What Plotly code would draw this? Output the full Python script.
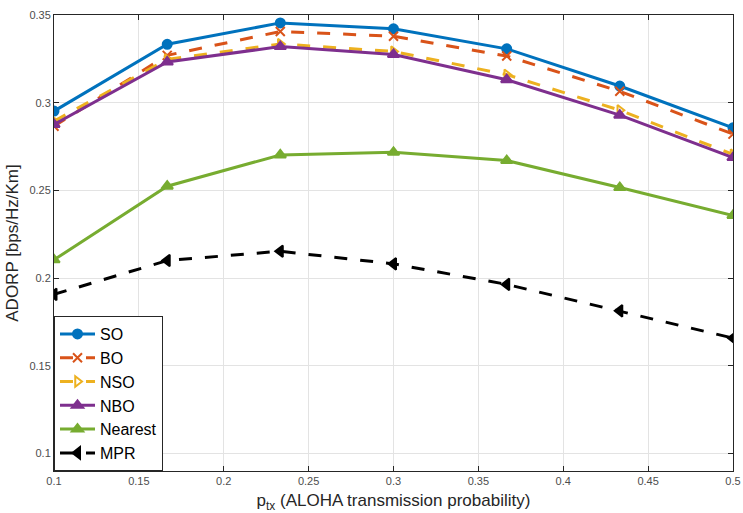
import plotly.graph_objects as go

x = [0.1, 0.1667, 0.2333, 0.3, 0.3667, 0.4333, 0.5]
so = [0.2952, 0.3333, 0.3455, 0.3421, 0.3307, 0.3095, 0.2857]
bo = [0.2866, 0.3270, 0.3406, 0.3379, 0.3266, 0.3065, 0.2821]
nso = [0.2895, 0.3247, 0.3335, 0.3292, 0.3160, 0.2957, 0.2705]
nbo = [0.2876, 0.3232, 0.3320, 0.3275, 0.3131, 0.2929, 0.2687]
nearest = [0.2104, 0.2524, 0.2702, 0.2717, 0.2670, 0.2516, 0.2357]
mpr = [0.1907, 0.2100, 0.2153, 0.2081, 0.1964, 0.1813, 0.1658]

series = [
    ("SO", so, "#0072BD", "solid", "circle", 9),
    ("BO", bo, "#D95319", "13px,13px", "x-thin", 9),
    ("NSO", nso, "#EDB120", "13px,13px", "triangle-right-open", 9),
    ("NBO", nbo, "#7E2F8E", "solid", "triangle-up", 10),
    ("Nearest", nearest, "#77AC30", "solid", "triangle-up", 10),
    ("MPR", mpr, "#000000", "13px,13px", "triangle-left", 10),
]

fig = go.Figure()
for name, y, color, dash, sym, size in series:
    fig.add_trace(go.Scatter(
        x=x, y=y, name=name, mode="lines+markers",
        line=dict(color=color, width=3, dash=dash),
        marker=dict(symbol=sym, size=size, color=color,
                    line=dict(color=color, width=2)),
    ))

axis_common = dict(
    showgrid=True, gridcolor="#e3e3e3", gridwidth=1,
    showline=True, linecolor="#262626", linewidth=1, mirror="ticks",
    ticks="inside", ticklen=5, tickcolor="#262626",
    tickfont=dict(family="Arial", size=11, color="#4d4d4d"),
    zeroline=False,
)

fig.update_layout(
    width=743, height=513,
    margin=dict(l=54, r=9, t=13, b=42),
    plot_bgcolor="white", paper_bgcolor="white",
    font=dict(family="Arial", color="#262626"),
    xaxis=dict(range=[0.1, 0.5], tick0=0.1, dtick=0.05, automargin=False,
               title=dict(text="p<sub>tx</sub> (ALOHA transmission probability)",
                          font=dict(size=17, color="#262626")),
               **axis_common),
    yaxis=dict(range=[0.09, 0.35], tickvals=[0.1, 0.15, 0.2, 0.25, 0.3, 0.35],
               ticktext=["0.1", "0.15", "0.2", "0.25", "0.3", "0.35"],
               automargin=True,
               title=dict(text="ADORP [bps/Hz/Km]", standoff=6,
                          font=dict(size=17, color="#262626")),
               **axis_common),
    legend=dict(x=0, y=0, xanchor="left", yanchor="bottom",
                bgcolor="white", bordercolor="#262626", borderwidth=1,
                font=dict(family="Arial", size=16, color="#000000"),
                tracegroupgap=0, itemwidth=35),
    showlegend=True,
)

fig.write_html("out.html")
